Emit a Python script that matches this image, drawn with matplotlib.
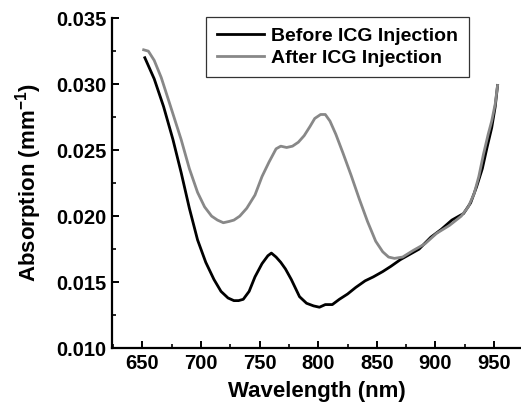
import matplotlib
matplotlib.use("Agg")
import matplotlib.pyplot as plt
from matplotlib.ticker import MultipleLocator

plt.rcParams['font.family'] = ['Liberation Sans', 'DejaVu Sans']
plt.rcParams['font.weight'] = 'bold'
plt.rcParams['mathtext.fontset'] = 'custom'
plt.rcParams['mathtext.rm'] = 'Liberation Sans:bold'
plt.rcParams['mathtext.default'] = 'rm'

# Before ICG injection
wl_before = [652, 660, 668, 676, 683, 690, 697, 704, 711, 717, 723, 728, 732, 736,
             741, 746, 752, 757, 760, 764, 768, 772, 777, 784, 790, 796, 801, 806,
             812, 818, 825, 832, 840, 847, 855, 862, 870, 878, 886, 896, 905, 914,
             924, 930, 935, 940, 944, 948, 951, 953]
abs_before = [0.0320, 0.0304, 0.0283, 0.0258, 0.0233, 0.0206, 0.0182, 0.0165, 0.0152,
              0.0143, 0.0138, 0.0136, 0.0136, 0.0137, 0.0143, 0.0154, 0.0164, 0.0170,
              0.0172, 0.0169, 0.0165, 0.0160, 0.0152, 0.0139, 0.0134, 0.0132, 0.0131,
              0.0133, 0.0133, 0.0137, 0.0141, 0.0146, 0.0151, 0.0154, 0.0158, 0.0162,
              0.0167, 0.0171, 0.0175, 0.0184, 0.0190, 0.0197, 0.0202, 0.0210, 0.0222,
              0.0236, 0.0252, 0.0267, 0.0283, 0.0299]

# After ICG injection
wl_after = [651, 655, 660, 666, 674, 683, 690, 697, 703, 709, 714, 719, 724, 728,
            733, 739, 746, 752, 758, 764, 768, 773, 778, 783, 788, 793, 797, 802,
            806, 810, 815, 821, 828, 835, 842, 849, 855, 860, 865, 872, 881, 891,
            901, 912, 922, 928, 933, 937, 941, 945, 948, 951, 953]
abs_after = [0.0326, 0.0325, 0.0318, 0.0305, 0.0283, 0.0258, 0.0236, 0.0218, 0.0207,
             0.0200, 0.0197, 0.0195, 0.0196, 0.0197, 0.0200, 0.0206, 0.0216, 0.0230,
             0.0241, 0.0251, 0.0253, 0.0252, 0.0253, 0.0256, 0.0261, 0.0268, 0.0274,
             0.0277, 0.0277, 0.0272, 0.0262, 0.0248, 0.0231, 0.0213, 0.0196, 0.0181,
             0.0173, 0.0169, 0.0168, 0.0169, 0.0174, 0.0179, 0.0187, 0.0193, 0.0200,
             0.0207, 0.0217, 0.0230, 0.0247, 0.0262, 0.0272, 0.0285, 0.0299]

fig = plt.figure(figsize=(5.21, 4.12), dpi=100)
ax = fig.add_axes([0.215, 0.155, 0.785, 0.801])

ax.plot(wl_before, abs_before, color='black', lw=2.0, label='Before ICG Injection')
ax.plot(wl_after, abs_after, color='#888888', lw=2.0, label='After ICG Injection')

ax.set_xlim(624, 973)
ax.set_ylim(0.010, 0.035)
ax.xaxis.set_major_locator(MultipleLocator(50))
ax.xaxis.set_minor_locator(MultipleLocator(25))
ax.yaxis.set_major_locator(MultipleLocator(0.005))
ax.yaxis.set_minor_locator(MultipleLocator(0.0025))
ax.yaxis.set_major_formatter(plt.FormatStrFormatter('%.3f'))

for side in ['top', 'right']:
    ax.spines[side].set_visible(False)
for side in ['left', 'bottom']:
    ax.spines[side].set_linewidth(1.6)

ax.tick_params(which='major', direction='in', length=5, width=1.4, labelsize=14.5, pad=4)
ax.tick_params(which='minor', direction='in', length=3, width=1.2)
for lab in ax.get_xticklabels() + ax.get_yticklabels():
    lab.set_fontweight('bold')

ax.set_xlabel('Wavelength (nm)', fontsize=16, fontweight='bold', labelpad=6)
ax.set_ylabel('Absorption (mm$^{-1}$)', fontsize=16, fontweight='bold', labelpad=9)

leg = ax.legend(loc='upper right', bbox_to_anchor=(0.873, 1.004),
                frameon=True, fancybox=False, edgecolor='black', handlelength=2.4,
                handletextpad=0.4, borderpad=0.55, labelspacing=0.2,
                borderaxespad=0, prop={'weight': 'bold', 'size': 14})
leg.get_frame().set_linewidth(0.9)

fig.savefig('out.png', dpi=100)
